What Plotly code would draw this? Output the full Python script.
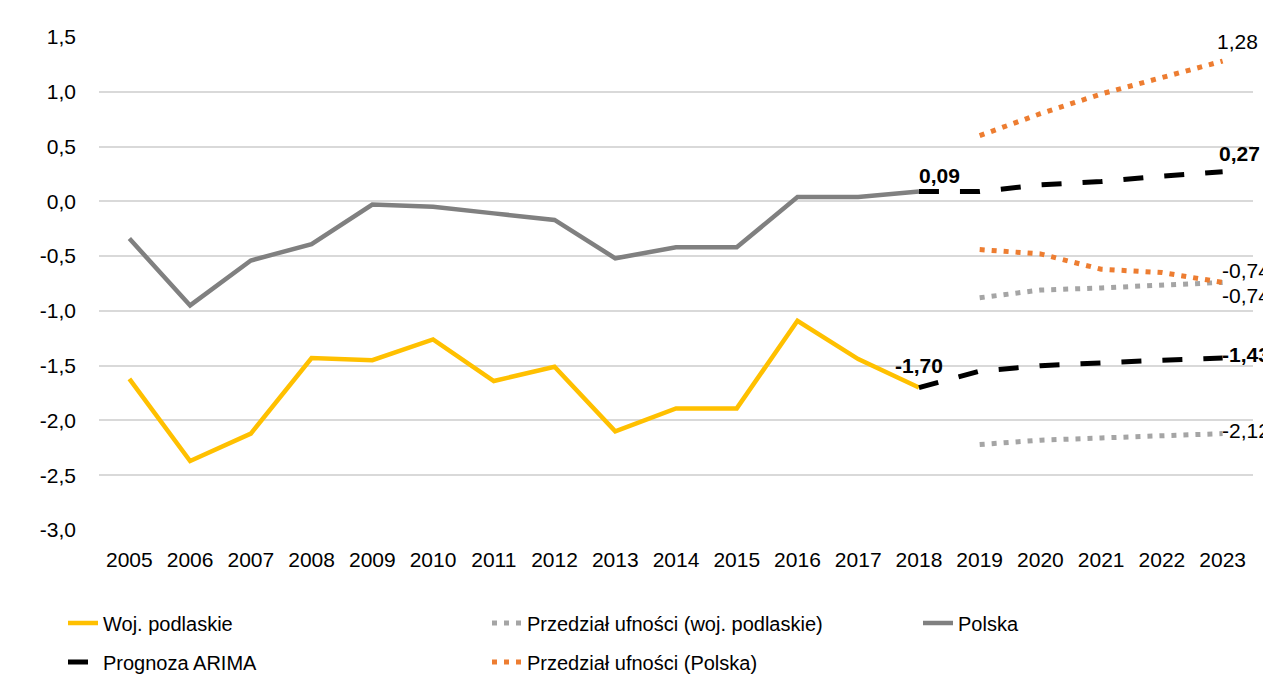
import plotly.graph_objects as go

lata = [str(r) for r in range(2005, 2024)]
lata_hist = lata[:14]          # 2005-2018
lata_prog = lata[13:]          # 2018-2023
lata_przedz = lata[14:]        # 2019-2023

podlaskie = [-1.62, -2.37, -2.12, -1.43, -1.45, -1.26, -1.64, -1.51, -2.10,
             -1.89, -1.89, -1.09, -1.44, -1.70]
polska = [-0.34, -0.95, -0.54, -0.39, -0.03, -0.05, -0.11, -0.17, -0.52,
          -0.42, -0.42, 0.04, 0.04, 0.09]

arima_polska = [0.09, 0.09, 0.15, 0.18, 0.23, 0.27]
arima_podlaskie = [-1.70, -1.55, -1.50, -1.47, -1.45, -1.43]

polska_gora = [0.60, 0.80, 0.98, 1.13, 1.28]
polska_dol = [-0.44, -0.48, -0.62, -0.65, -0.74]
podlaskie_gora = [-0.88, -0.81, -0.79, -0.77, -0.74]
podlaskie_dol = [-2.22, -2.18, -2.16, -2.14, -2.12]

y_ticki = [1.5, 1.0, 0.5, 0.0, -0.5, -1.0, -1.5, -2.0, -2.5, -3.0]
y_etykiety = ['1,5', '1,0', '0,5', '0,0', '-0,5', '-1,0', '-1,5', '-2,0', '-2,5', '-3,0']

ZOLTY = '#FFC000'
SZARY = '#808080'
POMARANCZ = '#ED7D31'
SZARY_JASNY = '#A5A5A5'
FONT = 'Liberation Sans'
KROPKI = '5px,7px'
KRESKI = '20px,21px'

fig = go.Figure()

fig.add_trace(go.Scatter(x=lata_hist, y=podlaskie, name='Woj. podlaskie', mode='lines',
                         line=dict(color=ZOLTY, width=4.5), legend='legend'))
fig.add_trace(go.Scatter(x=lata_przedz, y=podlaskie_gora, name='Przedział ufności (woj. podlaskie)',
                         mode='lines', line=dict(color=SZARY_JASNY, width=5, dash=KROPKI),
                         legend='legend', legendgroup='pp'))
fig.add_trace(go.Scatter(x=lata_przedz, y=podlaskie_dol, name='Przedział ufności (woj. podlaskie)',
                         mode='lines', line=dict(color=SZARY_JASNY, width=5, dash=KROPKI),
                         legend='legend', legendgroup='pp', showlegend=False))
fig.add_trace(go.Scatter(x=lata_hist, y=polska, name='Polska', mode='lines',
                         line=dict(color=SZARY, width=4.5), legend='legend3'))

fig.add_trace(go.Scatter(x=lata_prog, y=arima_polska, name='Prognoza ARIMA', mode='lines',
                         line=dict(color='black', width=5, dash=KRESKI),
                         legend='legend2', legendgroup='ar'))
fig.add_trace(go.Scatter(x=lata_prog, y=arima_podlaskie, name='Prognoza ARIMA', mode='lines',
                         line=dict(color='black', width=5, dash=KRESKI),
                         legend='legend2', legendgroup='ar', showlegend=False))
fig.add_trace(go.Scatter(x=lata_przedz, y=polska_gora, name='Przedział ufności (Polska)',
                         mode='lines', line=dict(color=POMARANCZ, width=5, dash=KROPKI),
                         legend='legend2', legendgroup='pl'))
fig.add_trace(go.Scatter(x=lata_przedz, y=polska_dol, name='Przedział ufności (Polska)',
                         mode='lines', line=dict(color=POMARANCZ, width=5, dash=KROPKI),
                         legend='legend2', legendgroup='pl', showlegend=False))


def etykieta(rok, y, bold=False, xanchor='left', yshift=0, xshift=0):
    tekst = f"{y:.2f}".replace('.', ',')
    if bold:
        tekst = f"<b>{tekst}</b>"
    # dla osi kategorii podajemy indeks kategorii
    fig.add_annotation(x=lata.index(rok), y=y, text=tekst, showarrow=False, xanchor=xanchor,
                       yanchor='middle', xshift=xshift, yshift=yshift,
                       font=dict(family=FONT, size=21, color='black'))


etykieta(lata_hist[-1], polska[-1], bold=True, xanchor='left', yshift=16, xshift=-2)
etykieta(lata_hist[-1], podlaskie[-1], bold=True, xanchor='center', yshift=22, xshift=0)
etykieta(lata_prog[-1], arima_polska[-1], bold=True, xanchor='left', yshift=18, xshift=-6)
etykieta(lata_prog[-1], arima_podlaskie[-1], bold=True, xanchor='left', yshift=4, xshift=-3)
etykieta(lata_przedz[-1], polska_gora[-1], xanchor='left', yshift=20, xshift=-8)
etykieta(lata_przedz[-1], polska_dol[-1], xanchor='left', yshift=12, xshift=-3)
etykieta(lata_przedz[-1], podlaskie_gora[-1], xanchor='left', yshift=-13, xshift=-3)
etykieta(lata_przedz[-1], podlaskie_dol[-1], xanchor='left', yshift=3, xshift=-3)

W, H = 1263, 671
legenda = dict(orientation='h', xref='container', yref='container',
               xanchor='left', yanchor='middle', entrywidth=379, entrywidthmode='pixels',
               font=dict(family=FONT, size=20, color='black'), bgcolor='rgba(0,0,0,0)',
               itemclick=False)

fig.update_layout(
    width=W, height=H,
    margin=dict(l=91, r=18, t=29, b=149),
    plot_bgcolor='white', paper_bgcolor='white',
    separators=', ',
    font=dict(family=FONT, size=21, color='black'),
    legend=dict(legenda, x=55 / W, y=1 - 615 / H),
    legend3=dict(legenda, x=910 / W, y=1 - 615 / H),
    legend2=dict(legenda, x=55 / W, y=1 - 654 / H),
    xaxis=dict(type='category', categoryarray=lata, range=[-0.5, 18.5],
               showgrid=False, showline=False, zeroline=False,
               ticks='', ticklabelstandoff=15,
               tickfont=dict(family=FONT, size=21, color='black')),
    yaxis=dict(range=[-3.0, 1.5], tickvals=y_ticki, ticktext=y_etykiety,
               showgrid=True, gridcolor='#D9D9D9', gridwidth=1.5,
               zeroline=False, showline=False, ticks='', ticklabelstandoff=22,
               tickfont=dict(family=FONT, size=21, color='black')),
)

fig.write_html("out.html")
